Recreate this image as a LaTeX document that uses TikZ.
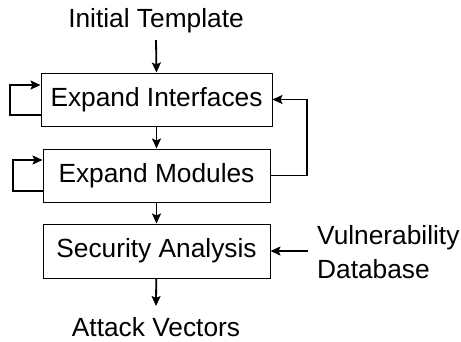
\documentclass[tikz,border=0pt]{standalone}
\usepackage{fontspec}
\setmainfont{Liberation Sans}
\usetikzlibrary{arrows.meta}
\begin{document}
\begin{tikzpicture}[x=1pt,y=-1pt,
  procbox/.style={draw,line width=1pt,minimum height=53pt,inner sep=0pt,font=\fontsize{26.3}{30}\selectfont},
  lbl/.style={inner sep=0pt,font=\fontsize{26.3}{30}\selectfont},
  conn/.style={line width=1.8pt,-{Stealth[length=10pt,width=9pt,inset=2pt]}}]
\useasboundingbox (0,0) rectangle (461,341);
\node[lbl] (init) at (156,21) {Initial Template};
\node[procbox,minimum width=231pt] (b1) at (156.5,99.5) {Expand Interfaces};
\node[procbox,minimum width=227pt] (b2) at (156.5,175.5) {Expand Modules};
\node[procbox,minimum width=227pt,minimum height=54pt] (b3) at (156.5,251) {Security Analysis};
\node[lbl] (out) at (156,327) {Attack Vectors};
\node[lbl,anchor=west,align=left,font=\fontsize{26.3}{34}\selectfont] (vdb) at (317,252) {Vulnerability\\Database};
\coordinate (l1) at (10,0);
\coordinate (l2) at (13,0);
\coordinate (fb) at (307,0);
\draw[conn] (init.south |- 0,40) -- (b1.north);
\draw[conn] (b1) -- (b2);
\draw[conn] (b2) -- (b3);
\draw[conn] (b3) -- (out.north |- 0,306);
\draw[conn] (b1.west |- 0,115) -| (l1 |- 0,85) -- (b1.west |- 0,85);
\draw[conn] (b2.west |- 0,191) -| (l2 |- 0,160) -- (b2.west |- 0,160);
\draw[conn] (b2.east) -| (fb |- b1.east) -- (b1.east);
\draw[conn] (vdb.west |- b3.east) ++(-9,0) -- (b3.east);
\end{tikzpicture}
\end{document}
